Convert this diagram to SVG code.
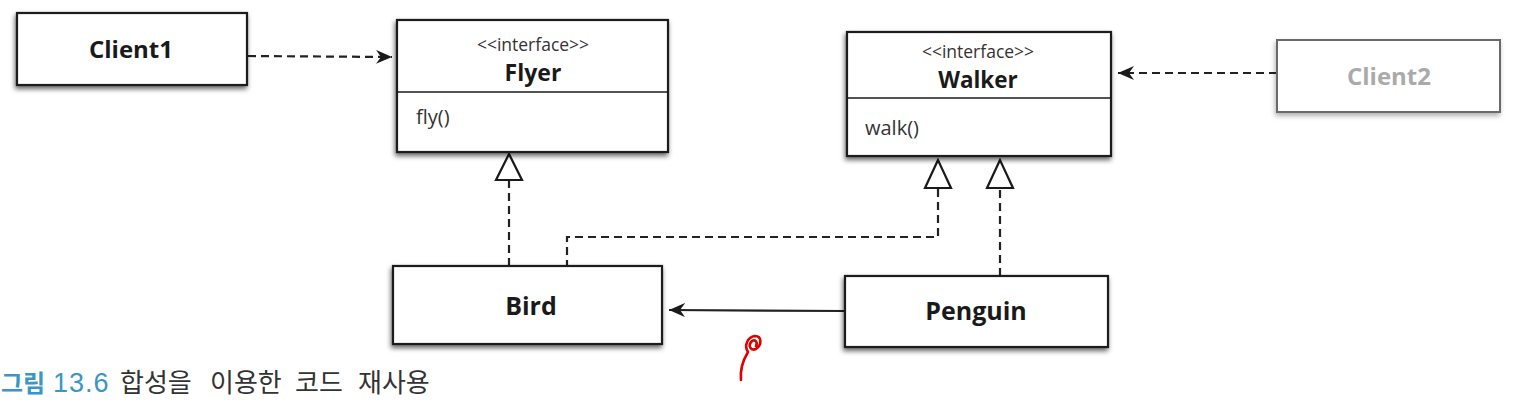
<svg xmlns="http://www.w3.org/2000/svg" width="1530" height="411" viewBox="0 0 1530 411">
<style>
.box{fill:#fff;stroke:#1a1a1a;stroke-width:2.2;filter:url(#sh)}
.box2{fill:#fff;stroke:#6a6a6a;stroke-width:2;filter:url(#sh2)}
.div{stroke:#1a1a1a;stroke-width:1.6}
.name{font-family:"Open Sans","Liberation Sans",sans-serif;font-weight:700;fill:#1a1a1a;text-anchor:middle}
.st{font-family:"Open Sans","Liberation Sans",sans-serif;font-size:17.5px;fill:#333;text-anchor:middle}
.op{font-family:"Open Sans","Liberation Sans",sans-serif;font-size:20px;fill:#333}
.dash{fill:none;stroke:#222;stroke-width:2.2;stroke-dasharray:8,5}
.solid{fill:none;stroke:#222;stroke-width:2.2}
.tri{fill:#fff;stroke:#1a1a1a;stroke-width:2.2;stroke-linejoin:miter}
.cap{font-family:"Noto Sans CJK KR","Noto Sans",sans-serif;font-size:26px}
</style>
<defs>
<filter id="sh" x="-10%" y="-20%" width="120%" height="150%">
<feDropShadow dx="-1" dy="3" stdDeviation="2.4" flood-color="#000" flood-opacity="0.6"/>
</filter>
<filter id="sh2" x="-10%" y="-20%" width="120%" height="150%">
<feDropShadow dx="-1" dy="3" stdDeviation="2.4" flood-color="#000" flood-opacity="0.3"/>
</filter>
<marker id="arr" markerUnits="userSpaceOnUse" markerWidth="18" markerHeight="14" refX="16" refY="7" orient="auto">
<path d="M0,0 L16,7 L0,14 L5,7 Z" fill="#1a1a1a"/>
</marker>
</defs>
<rect width="1530" height="411" fill="#fff"/>

<g id="connectors">
<path class="dash" d="M248,56 L392,57" marker-end="url(#arr)"/>
<path class="dash" d="M1277,73 L1118,73" marker-end="url(#arr)"/>
<path class="solid" d="M845,311 L669,310" marker-end="url(#arr)"/>
<path class="dash" d="M509,180 L509,267"/>
<polygon class="tri" points="509,154 496,180 522,180"/>
<path class="dash" d="M567,268 L567,237 L938,237 L938,188"/>
<polygon class="tri" points="938,160 925,188 951,188"/>
<path class="dash" d="M1000,276 L1000,188"/>
<polygon class="tri" points="1000,160 987,188 1013,188"/>
</g>

<g id="client1">
<rect class="box" x="17" y="13" width="230" height="72"/>
<text class="name" x="131" y="58" font-size="24">Client1</text>
</g>

<g id="flyer">
<rect class="box" x="397" y="20" width="271" height="132"/>
<line class="div" x1="397" y1="92" x2="668" y2="92"/>
<text class="st" x="533" y="51">&lt;&lt;interface&gt;&gt;</text>
<text class="name" x="533" y="81" font-size="23">Flyer</text>
<text class="op" x="416" y="124">fly()</text>
</g>

<g id="walker">
<rect class="box" x="847" y="32" width="264" height="124"/>
<line class="div" x1="847" y1="98" x2="1111" y2="98"/>
<text class="st" x="978" y="58">&lt;&lt;interface&gt;&gt;</text>
<text class="name" x="978" y="88" font-size="22.5">Walker</text>
<text class="op" x="865" y="135">walk()</text>
</g>

<g id="client2">
<rect class="box2" x="1277" y="40" width="223" height="72"/>
<text class="name" x="1389" y="85" font-size="24" style="fill:#aaa">Client2</text>
</g>

<g id="bird">
<rect class="box" x="393" y="266" width="269" height="78"/>
<text class="name" x="531" y="315" font-size="25">Bird</text>
</g>

<g id="penguin">
<rect class="box" x="845" y="276" width="263" height="71"/>
<text class="name" x="976" y="320" font-size="25">Penguin</text>
</g>

<path d="M741,380 C740,371 742,362 748,352 M748,352 C744,346 747,337 755,336 C762,336 762,345 756,349 C751,351 747,346 752,341 C755,339 758,342 756,346" fill="none" stroke="#e00000" stroke-width="2.6" stroke-linecap="round"/>

<text class="cap" y="392"><tspan x="1" fill="#3a96c6" font-weight="700" font-size="24">그림</tspan><tspan x="53" fill="#3a96c6" font-family="Liberation Sans, sans-serif" font-size="27" letter-spacing="1">13.6</tspan><tspan x="120" fill="#333">합성을</tspan><tspan x="210" fill="#333">이용한</tspan><tspan x="295" fill="#333">코드</tspan><tspan x="358" fill="#333">재사용</tspan></text>
</svg>
